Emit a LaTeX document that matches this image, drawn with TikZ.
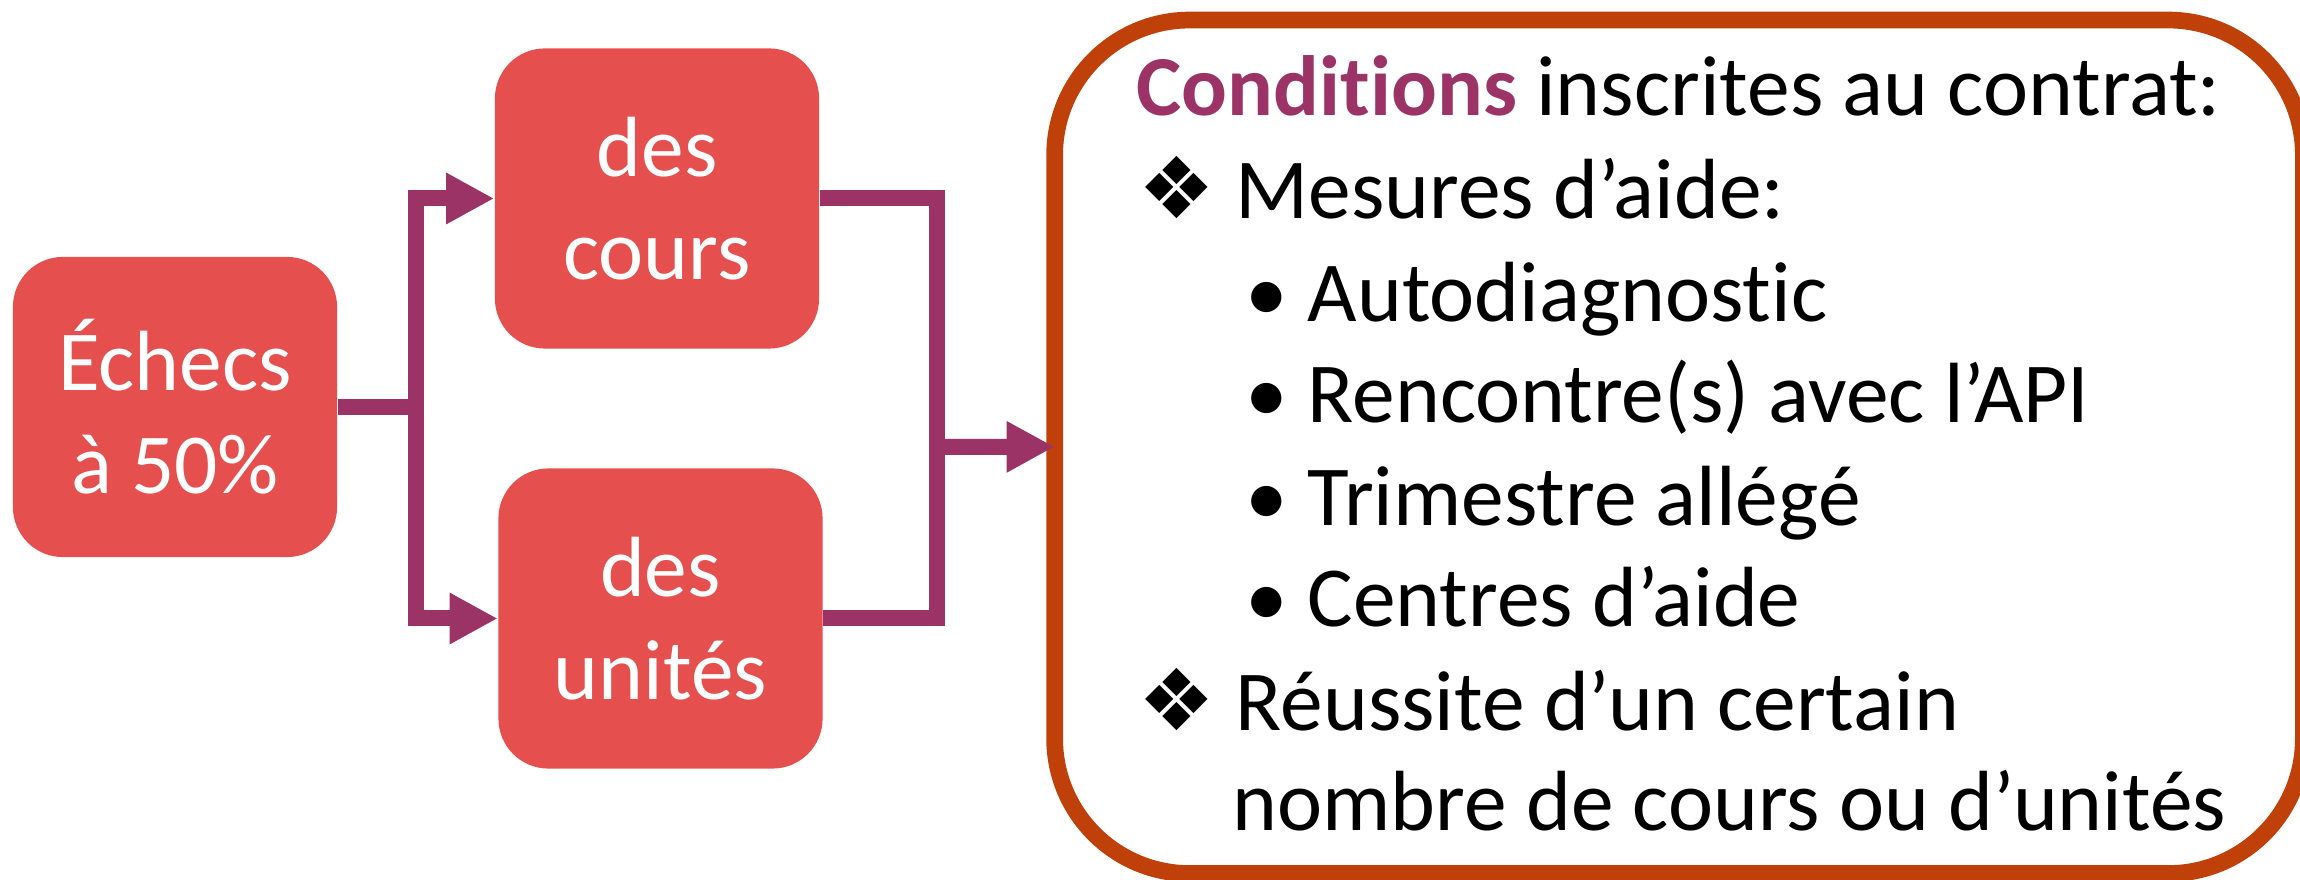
\documentclass[tikz,border=0pt]{standalone}
\usepackage{fontspec}
\setmainfont{Carlito}[Ligatures={NoCommon}]
\newfontfamily\symfont{DejaVu Sans}
\usetikzlibrary{arrows.meta}

\definecolor{boxred}{RGB}{229,80,79}
\definecolor{linkpurple}{RGB}{155,51,102}
\definecolor{framerust}{RGB}{192,64,10}

\newcommand{\bigfont}{\fontsize{24.3}{29.3}\selectfont}
\newcommand{\losange}{\makebox[9.7mm][l]{\symfont ❖}}
\newcommand{\puce}{\makebox[6.2mm][l]{•}}

\tikzset{
  redbox/.style={fill=boxred, rounded corners=5mm, minimum width=3.24cm,
    minimum height=3cm, inner sep=0pt, text=white, align=center, font=\bigfont},
  link/.style={draw=linkpurple, line width=1.6mm},
  textline/.style={anchor=base west, inner sep=0pt, font=\bigfont},
}

\begin{document}
\begin{tikzpicture}[x=0.01cm, y=-0.01cm, >={Triangle[length=4.8mm, width=4.8mm]}]
    \useasboundingbox (0,0) rectangle (2300,880);
    % left part
    \node[redbox] (echecs) at (175,407) {Échecs\\à 50\%};
    \node[redbox] (cours) at (657,198.5) {des\\cours};
    \node[redbox] (unites) at (660.5,618.5) {des\\unités};
    \node[draw=framerust, line width=1.67mm, rounded corners=13.5mm, minimum width=12.48cm,
      minimum height=8.53cm, inner sep=0pt, outer sep=0pt] (contrat) at (1679,446.8) {};
    \coordinate (split) at (416,407);
    \coordinate (merge) at (937,447);
    \draw[link] (echecs.east) -- (split);
    \draw[link, ->] (split) |- (cours.west);
    \draw[link, ->] (split) |- (unites.west);
    \draw[link] (cours.east) -| (merge);
    \draw[link] (unites.east) -| (merge);
    \draw[link, ->] (merge) -- (contrat.west);
    % text of the frame
    \node[textline] (titre) at (1136,116) {\textbf{\color{linkpurple}Conditions} inscrites au contrat:};
    \node[textline] (mesures) at (1138,219) {\losange Mesures d’aide:};
    \node[textline] (autodiag) at (1245,321.5) {\puce Autodiagnostic};
    \node[textline] (rencontre) at (1245,422.6) {\puce Rencontre(s) avec l’API};
    \node[textline] (trimestre) at (1245,526) {\puce Trimestre allégé};
    \node[textline] (centres) at (1245,627) {\puce Centres d’aide};
    \node[textline] (reussite) at (1138,730.6) {\losange Réussite d’un certain};
    \node[textline] (nombre) at (1232,830.5) {nombre de cours ou d’unités};
\end{tikzpicture}
\end{document}
